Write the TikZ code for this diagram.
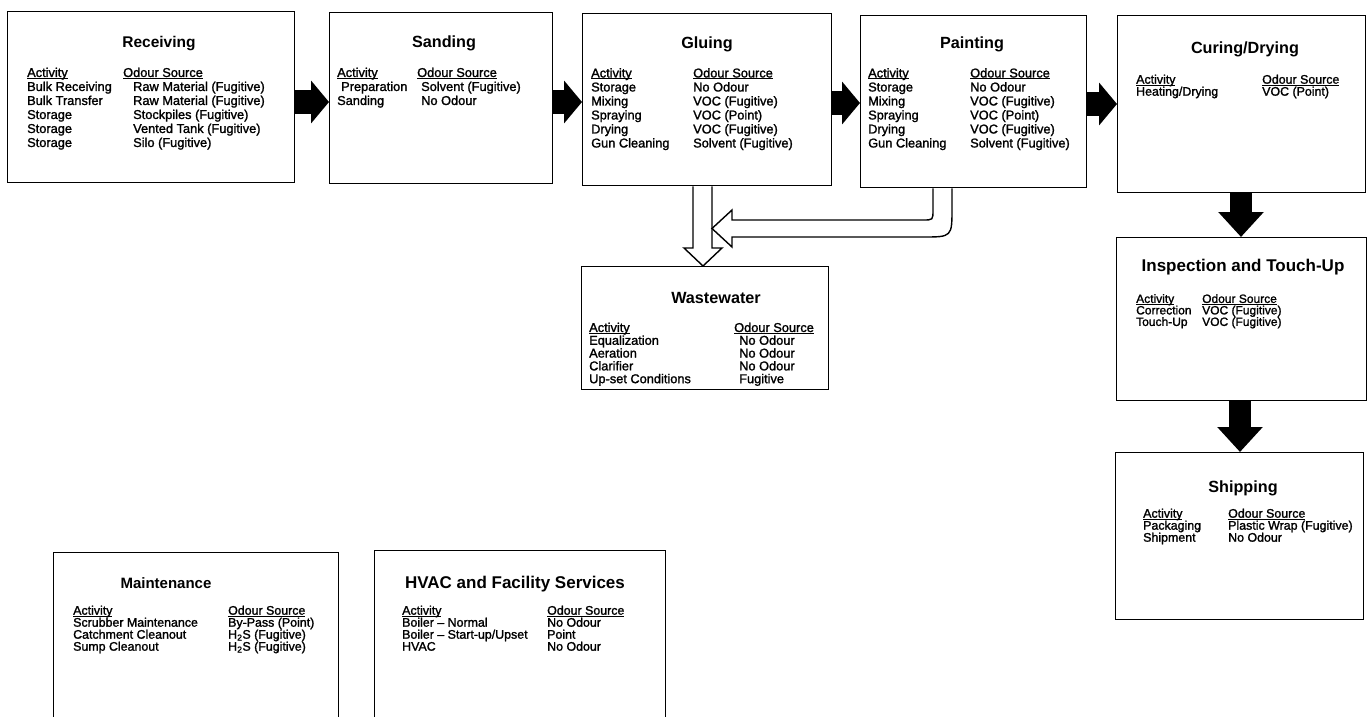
\documentclass[tikz,border=0pt]{standalone}
\usepackage{fontspec}
\setmainfont{Liberation Sans}
\newfontfamily\bodyfont{Liberation Sans}[Ligatures=TeX, FakeBold=1.5]
\usetikzlibrary{arrows.meta}

\newcommand\colhead[1]{\setbox0\hbox{#1}\rlap{\rule[-1.7pt]{\wd0}{0.8pt}}\box0}

\tikzset{
  stage/.style={draw, line width=1.4pt, inner sep=0pt, anchor=north west},
  stagetitle/.style={font=\fontsize{16.2}{18}\selectfont\bfseries, anchor=base, inner sep=0pt},
  col/.style={font=\bodyfont\fontsize{12.8}{14}\selectfont, align=left, anchor=north west, inner sep=0pt},
  coltight/.style={col, font=\bodyfont\fontsize{12.4}{12}\selectfont},
  flow/.style={line width=23pt, -{Triangle[length=18pt,width=42pt]}},
  flowdown/.style={line width=22pt, -{Triangle[length=25pt,width=44pt]}},
  drain/.style={draw, fill=white, line width=1.4pt, line join=miter},
}

\begin{document}
\begin{tikzpicture}[x=1pt, y=-1pt]
  \useasboundingbox (0,0) rectangle (1369,717);
  \clip (0,0) rectangle (1369,717);

  % process stages
  \node[stage, minimum width=287pt, minimum height=171pt] (recv) at (7,11) {};
  \node[stage, minimum width=223pt, minimum height=171pt] (sand) at (329,12) {};
  \node[stage, minimum width=249pt, minimum height=172pt] (glue) at (582,13) {};
  \node[stage, minimum width=226pt, minimum height=172pt] (paint) at (860,15) {};
  \node[stage, minimum width=248pt, minimum height=177pt] (cure) at (1117,15) {};
  \node[stage, minimum width=247pt, minimum height=123pt] (waste) at (581,266) {};
  \node[stage, minimum width=250pt, minimum height=163pt] (insp) at (1116,237) {};
  \node[stage, minimum width=248pt, minimum height=167pt] (ship) at (1115,452) {};
  \node[stage, minimum width=285pt, minimum height=200pt] (maint) at (53,552) {};
  \node[stage, minimum width=291pt, minimum height=200pt] (hvac) at (374,550) {};

  % Receiving
  \node[stagetitle, font=\fontsize{15.5}{18}\selectfont\bfseries] (recv-t) at (159,48) {Receiving};
  \node[col] (recv-act) at (27,67.5) {\colhead{Activity}\\Bulk Receiving\\Bulk Transfer\\Storage\\Storage\\Storage};
  \node[col] (recv-src) at (123,67.5) {\colhead{Odour Source}\\\hspace*{10pt}Raw Material (Fugitive)\\\hspace*{10pt}Raw Material (Fugitive)\\\hspace*{10pt}Stockpiles (Fugitive)\\\hspace*{10pt}Vented Tank (Fugitive)\\\hspace*{10pt}Silo (Fugitive)};

  % Sanding
  \node[stagetitle] (sand-t) at (444,48) {Sanding};
  \node[col] (sand-act) at (337,67.5) {\colhead{Activity}\\\hspace*{4pt}Preparation\\Sanding};
  \node[col] (sand-src) at (417,67.5) {\colhead{Odour Source}\\\hspace*{4pt}Solvent (Fugitive)\\\hspace*{4pt}No Odour};

  % Gluing
  \node[stagetitle] (glue-t) at (707,49) {Gluing};
  \node[col] (glue-act) at (591,68) {\colhead{Activity}\\Storage\\Mixing\\Spraying\\Drying\\Gun Cleaning};
  \node[col] (glue-src) at (693,68) {\colhead{Odour Source}\\No Odour\\VOC (Fugitive)\\VOC (Point)\\VOC (Fugitive)\\Solvent (Fugitive)};

  % Painting
  \node[stagetitle] (paint-t) at (972,49) {Painting};
  \node[col] (paint-act) at (868,68) {\colhead{Activity}\\Storage\\Mixing\\Spraying\\Drying\\Gun Cleaning};
  \node[col] (paint-src) at (970,68) {\colhead{Odour Source}\\No Odour\\VOC (Fugitive)\\VOC (Point)\\VOC (Fugitive)\\Solvent (Fugitive)};

  % Curing/Drying
  \node[stagetitle] (cure-t) at (1245,54) {Curing/Drying};
  \node[coltight] (cure-act) at (1136,74.5) {\colhead{Activity}\\Heating/Drying};
  \node[coltight] (cure-src) at (1262,74.5) {\colhead{Odour Source}\\VOC (Point)};

  % Wastewater
  \node[stagetitle] (waste-t) at (716,303) {Wastewater};
  \node[col, font=\bodyfont\fontsize{12.8}{12.8}\selectfont] (waste-act) at (589,322.5) {\colhead{Activity}\\Equalization\\Aeration\\Clarifier\\Up-set Conditions};
  \node[col, font=\bodyfont\fontsize{12.8}{12.8}\selectfont] (waste-src) at (734,322.5) {\colhead{Odour Source}\\\hspace*{5pt}No Odour\\\hspace*{5pt}No Odour\\\hspace*{5pt}No Odour\\\hspace*{5pt}Fugitive};

  % Inspection and Touch-Up
  \node[stagetitle, font=\fontsize{17}{18}\selectfont\bfseries] (insp-t) at (1243,271) {Inspection and Touch-Up};
  \node[coltight, font=\bodyfont\fontsize{12}{11.5}\selectfont] (insp-act) at (1136,294) {\colhead{Activity}\\Correction\\Touch-Up};
  \node[coltight, font=\bodyfont\fontsize{12}{11.5}\selectfont] (insp-src) at (1202,294) {\colhead{Odour Source}\\VOC (Fugitive)\\VOC (Fugitive)};

  % Shipping
  \node[stagetitle] (ship-t) at (1243,492) {Shipping};
  \node[coltight] (ship-act) at (1143,508.5) {\colhead{Activity}\\Packaging\\Shipment};
  \node[coltight] (ship-src) at (1228,508.5) {\colhead{Odour Source}\\Plastic Wrap (Fugitive)\\No Odour};

  % Maintenance
  \node[stagetitle, font=\fontsize{15}{18}\selectfont\bfseries] (maint-t) at (166,588) {Maintenance};
  \node[coltight] (maint-act) at (73,605.5) {\colhead{Activity}\\Scrubber Maintenance\\Catchment Cleanout\\Sump Cleanout};
  \node[coltight] (maint-src) at (228,605.5) {\colhead{Odour Source}\\By-Pass (Point)\\H\textsubscript{2}S (Fugitive)\\H\textsubscript{2}S (Fugitive)};

  % HVAC and Facility Services
  \node[stagetitle, font=\fontsize{17}{18}\selectfont\bfseries] (hvac-t) at (515,588) {HVAC and Facility Services};
  \node[coltight] (hvac-act) at (402,605.5) {\colhead{Activity}\\Boiler -- Normal\\Boiler -- Start-up/Upset\\HVAC};
  \node[coltight] (hvac-src) at (547,605.5) {\colhead{Odour Source}\\No Odour\\Point\\No Odour};

  % main flow
  \draw[flow] (recv.east |- 0,102) -- (sand.west |- 0,102);
  \draw[flow] (sand.east |- 0,102) -- (glue.west |- 0,102);
  \draw[flow] (glue.east |- 0,103) -- (paint.west |- 0,103);
  \draw[flow] (paint.east |- 0,104) -- (cure.west |- 0,104);
  \draw[flowdown] (cure.south -| 1241,0) -- (insp.north -| 1241,0);
  \draw[flowdown] (insp.south -| 1240,0) -- (ship.north -| 1240,0);

  % wastewater drains
  \draw[drain] (glue.south -| 693,0) -- (693,248) -- (684,248) -- (waste.north -| 703,0)
    -- (722,248) -- (712,248) -- (glue.south -| 712,0);
  \draw[drain] (paint.south -| 933,0) -- (933,210) .. controls (933,220) .. (923,220) -- (732,220)
    -- (732,210) -- (712,228.5) -- (732,247) -- (732,237) -- (923,237)
    .. controls (952,237) .. (952,208) -- (paint.south -| 952,0);
\end{tikzpicture}
\end{document}
